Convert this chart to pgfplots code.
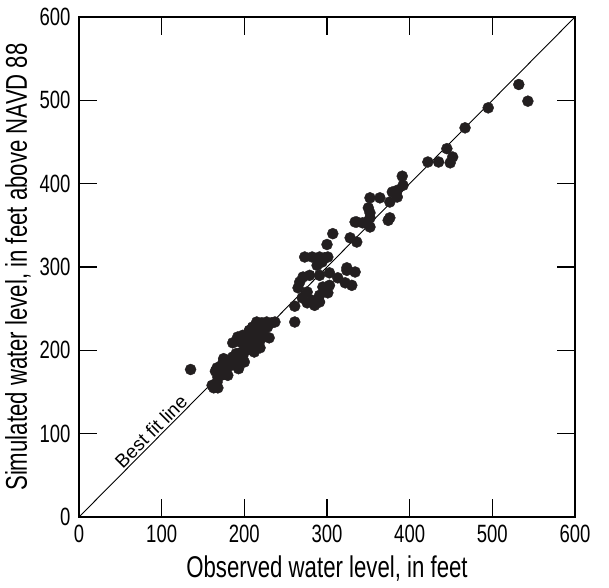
\documentclass[border=0pt]{standalone}
\usepackage{pgfplots}
\pgfplotsset{compat=1.18}
\usepackage{fontspec}
\setmainfont{Liberation Sans}[FakeStretch=0.74]
\newfontfamily\regfont{Liberation Sans}
\definecolor{dot}{HTML}{231F20}
\begin{document}
\begin{tikzpicture}
\path[use as bounding box] (-79pt,-70pt) rectangle (530pt,517pt);
\begin{axis}[
  at={(0,0)}, anchor=south west, scale only axis,
  width=496pt, height=500pt,
  xmin=0, xmax=600, ymin=0, ymax=600,
  xtick={0,100,...,600}, ytick={0,100,...,600},
  tick align=inside, major tick length=18pt,
  axis line style={line width=1.1pt, black},
  tick style={line width=1.1pt, black},
  /pgf/number format/assume math mode=true,
  ticklabel style={font=\fontsize{25}{25}\selectfont},
  xticklabel style={yshift=-5pt},
  yticklabel style={xshift=-5pt},
  xlabel={Observed water level, in feet},
  ylabel={Simulated water level, in feet above NAVD 88},
  label style={font=\fontsize{30}{30}\selectfont},
  xlabel style={yshift=-6pt},
  ylabel style={yshift=2pt},
  clip=false,
]
\addplot[black, line width=0.9pt] coordinates {(0,0) (600,600)};
\node[rotate=45, anchor=south, inner sep=2pt, font=\regfont\fontsize{19}{19}\selectfont] at (axis cs:95,95) {Best fit line};
\addplot[only marks, mark=*, mark size=5.5pt, dot, mark options={draw=dot, fill=dot}] coordinates {
(135,177)
(163,155) (168,155) (161,158) (167,162) (168,168) (165,175) (167,179) (170,176)
(172,181) (174,185) (176,178) (179,180) (183,186) (186,192) (180,170) (176,172)
(184,182) (188,188) (190,196) (195,197) (198,193) (203,200) (209,204) (186,209)
(192,216) (198,218) (204,214) (210,216) (219,212) (219,203) (214,208) (200,207)
(195,210) (205,205) (212,198) (210,228) (215,234) (221,233) (227,234) (233,233)
(237,234) (222,225) (216,222) (206,224) (224,218) (228,228) (230,215) (180,183)
(175,190) (190,185) (200,186) (193,178) (172,170)
(261,234) (261,253) (265,275) (267,282) (270,263) (271,288) (273,312) (276,270)
(276,257) (279,290) (282,312) (282,260) (285,254) (288,302) (291,312) (291,290)
(291,266) (291,258) (294,306) (295,276) (301,312) (301,269) (303,293) (303,278)
(313,287) (322,281) (330,278) (324,296) (334,294) (300,327) (307,340) (328,335)
(336,330) (297,311) (291,308) (324,299)
(334,354) (346,353) (336,354) (343,353) (352,348) (352,359) (352,365) (350,371)
(352,383) (364,383) (376,378) (379,390) (385,392) (385,384) (392,398) (391,409)
(376,359) (374,356)
(422,426) (435,426) (449,425) (452,432) (445,442) (467,467) (495,491) (532,519) (543,499)
};
\end{axis}
\end{tikzpicture}
\end{document}
